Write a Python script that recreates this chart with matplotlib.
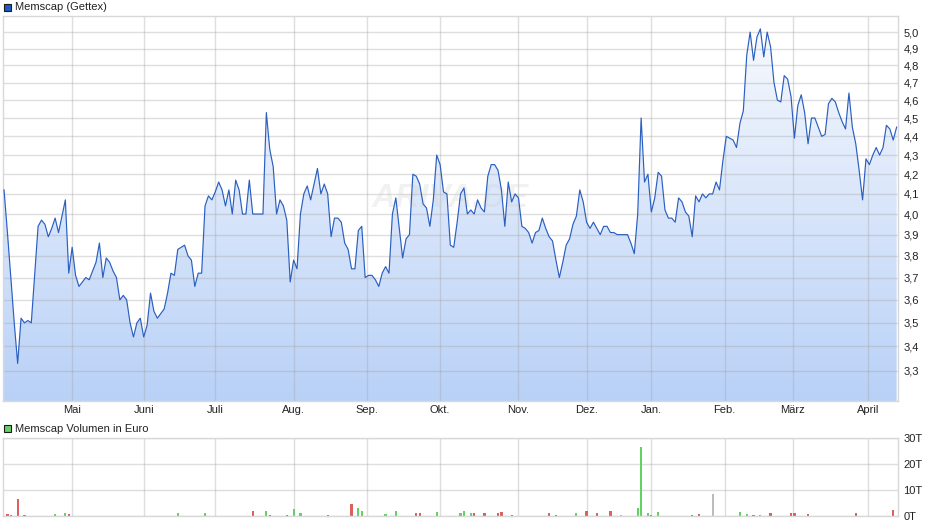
import numpy as np
import matplotlib
matplotlib.use("Agg")
import matplotlib.pyplot as plt
from matplotlib.colors import LinearSegmentedColormap
from matplotlib.patches import Rectangle
from matplotlib.ticker import NullLocator

plt.rcParams['font.family'] = ['Liberation Sans', 'DejaVu Sans']

# daily closing prices (EUR), one per trading day
prices = [
    4.12, 3.91, 3.70, 3.50, 3.33, 3.52, 3.50, 3.51, 3.50, 3.71,
    3.94, 3.97, 3.95, 3.89, 3.93, 3.98, 3.91, 3.99, 4.07, 3.72,
    3.84, 3.71, 3.66, 3.68, 3.70, 3.69, 3.73, 3.77, 3.86, 3.70,
    3.79, 3.77, 3.73, 3.70, 3.60, 3.62, 3.60, 3.50, 3.44, 3.50,
    3.52, 3.44, 3.49, 3.63, 3.55, 3.52, 3.54, 3.56, 3.63, 3.72,
    3.71, 3.83, 3.84, 3.85, 3.80, 3.78, 3.66, 3.72, 3.72, 4.04,
    4.09, 4.07, 4.11, 4.16, 4.12, 4.04, 4.12, 4.00, 4.17, 4.12,
    4.00, 4.00, 4.17, 4.00, 4.00, 4.00, 4.00, 4.53, 4.33, 4.24,
    4.00, 4.07, 4.04, 3.97, 3.68, 3.78, 3.74, 4.00, 4.10, 4.14,
    4.07, 4.15, 4.23, 4.10, 4.15, 4.10, 3.89, 3.98, 3.98, 3.96,
    3.86, 3.83, 3.74, 3.74, 3.92, 3.94, 3.70, 3.71, 3.71, 3.69,
    3.66, 3.72, 3.75, 3.72, 4.00, 4.08, 3.93, 3.79, 3.88, 3.90,
    4.20, 4.19, 4.15, 4.05, 4.03, 3.94, 4.07, 4.30, 4.25, 4.11,
    4.10, 3.85, 3.84, 3.96, 4.10, 4.13, 4.00, 4.02, 4.00, 4.07,
    4.03, 4.01, 4.19, 4.25, 4.25, 4.22, 4.12, 3.94, 4.16, 4.06,
    4.10, 4.08, 3.94, 3.93, 3.91, 3.86, 3.91, 3.92, 3.98, 3.93,
    3.89, 3.87, 3.78, 3.70, 3.77, 3.85, 3.88, 3.95, 3.99, 4.12,
    4.06, 3.96, 3.93, 3.96, 3.93, 3.90, 3.94, 3.94, 3.91, 3.91,
    3.90, 3.90, 3.90, 3.90, 3.86, 3.81, 4.00, 4.50, 4.16, 4.20,
    4.01, 4.08, 4.21, 4.19, 4.02, 3.98, 3.98, 3.96, 4.08, 4.06,
    4.01, 3.99, 3.89, 4.09, 4.06, 4.10, 4.08, 4.10, 4.10, 4.16,
    4.12, 4.27, 4.40, 4.39, 4.38, 4.34, 4.47, 4.54, 4.86, 5.00,
    4.83, 4.97, 5.02, 4.85, 5.00, 4.91, 4.70, 4.60, 4.59, 4.74,
    4.72, 4.62, 4.39, 4.57, 4.63, 4.53, 4.36, 4.50, 4.50, 4.45,
    4.40, 4.41, 4.58, 4.61, 4.59, 4.53, 4.48, 4.44, 4.64, 4.45,
    4.36, 4.22, 4.07, 4.28, 4.25, 4.30, 4.34, 4.30, 4.34, 4.46,
    4.44, 4.38, 4.45,
]

# month boundaries (position in trading-day index) and labels
month_labels = ['Mai', 'Juni', 'Juli', 'Aug.', 'Sep.', 'Okt.', 'Nov.', 'Dez.',
                'Jan.', 'Feb.', 'März', 'April']
month_pos = [20, 41, 62, 85, 106.5, 128, 151, 171, 190, 211.5, 231.5, 253.5]

price_ticks = [3.3, 3.4, 3.5, 3.6, 3.7, 3.8, 3.9, 4.0, 4.1, 4.2,
               4.3, 4.4, 4.5, 4.6, 4.7, 4.8, 4.9, 5.0]

# traded volume (thousand EUR) on days with turnover
vol_day = [1, 2, 4, 6, 9, 15, 18, 19, 29, 51, 56, 57, 59, 73, 77, 78, 83, 84,
           85, 86, 87, 91, 95, 96, 100, 102, 104, 105, 107, 112, 113, 115,
           121, 122, 127, 134, 135, 137, 138, 141, 145, 146, 149, 154, 155,
           160, 162, 168, 171, 174, 178, 181, 186, 187, 189, 190, 191, 192,
           202, 204, 208, 216, 218, 220, 222, 225, 231, 232, 234, 236, 238,
           250, 261]
vol_amount = [0.9, 0.5, 6.6, 0.5, 0.1, 0.9, 1.3, 0.9, 0.1, 1.3, 0.1, 0.1, 1.3,
              2.0, 2.0, 0.5, 0.5, 0.1, 2.8, 0.1, 1.3, 0.1, 0.5, 0.1, 0.1, 4.7,
              3.2, 2.0, 0.1, 0.9, 0.1, 2.0, 1.3, 1.3, 1.7, 1.3, 2.0, 1.3, 1.3,
              1.3, 1.3, 1.7, 0.5, 0.1, 0.1, 1.3, 0.5, 1.3, 2.0, 1.3, 2.0, 0.5,
              3.2, 26.5, 1.3, 0.5, 0.1, 1.7, 0.5, 0.9, 8.5, 1.7, 0.9, 0.5, 0.5,
              1.3, 1.3, 1.3, 0.1, 0.9, 0.1, 1.3, 2.5]
vol_dir = ['d', 'd', 'd', 'd', 'u', 'u', 'u', 'd', 'd', 'u', 'd', 'u', 'u',
           'd', 'u', 'd', 'd', 'd', 'u', 'd', 'u', 'u', 'd', 'd', 'd', 'd',
           'u', 'u', 'u', 'u', 'd', 'u', 'd', 'd', 'u', 'u', 'u', 'u', 'd',
           'd', 'd', 'd', 'd', 'd', 'd', 'd', 'd', 'u', 'd', 'd', 'd', 'n',
           'u', 'u', 'u', 'd', 'u', 'u', 'd', 'd', 'n', 'u', 'u', 'd', 'u',
           'd', 'd', 'd', 'u', 'd', 'n', 'd', 'd']
vol_ticks = [0, 10, 20, 30]
vol_tick_labels = ['0T', '10T', '20T', '30T']

DIR_COLORS = {'u': '#63d263', 'd': '#d9625f', 'n': '#bcbcbc'}
GRID = dict(color='#a4a4a4', alpha=0.36, linewidth=1.0)
TEXT = '#222222'
FS = 8.0
W, H = 940, 526

fig = plt.figure(figsize=(W / 100, H / 100), dpi=100)

# ---- price panel ----
ax = fig.add_axes([3 / W, 1 - 401 / H, 895 / W, 385 / H])
x = np.arange(len(prices))

grad = np.linspace(0, 1, 256).reshape(-1, 1)
cmap = LinearSegmentedColormap.from_list('fill', ['#f8fafe', '#b9d1f7'])
im = ax.imshow(grad, extent=[0, 1, 0, 1], transform=ax.transAxes,
               aspect='auto', cmap=cmap, origin='upper', zorder=0.5)

ax.set_yscale('log')
ax.set_xlim(-0.3, 262.4)
ax.set_ylim(3.18, 5.10)

poly = ax.fill_between(x, prices, 3.0, facecolor='none', linewidth=0)
im.set_clip_path(poly.get_paths()[0], ax.transData)

ax.plot(x, prices, color='#2a5fc0', linewidth=0.85, zorder=3)

ax.set_yticks(price_ticks)
ax.set_yticklabels([f'{v:.1f}'.replace('.', ',') for v in price_ticks])
ax.yaxis.set_minor_locator(NullLocator())
ax.yaxis.tick_right()
ax.set_xticks(month_pos)
ax.set_xticklabels(month_labels)
ax.tick_params(axis='y', length=0, pad=4, labelsize=FS, labelcolor=TEXT)
ax.tick_params(axis='x', length=0, pad=3, labelsize=FS, labelcolor=TEXT)
ax.grid(True, **GRID)
for s in ax.spines.values():
    s.set_color('#d8d8d8')
    s.set_linewidth(1.0)

ax.text(0.5, 0.525, 'ARIVA.DE', transform=ax.transAxes, ha='center',
        va='center', fontsize=24, fontweight='bold', style='italic',
        color='#d0d0d0', alpha=0.28, zorder=1.8)

# ---- volume panel ----
vax = fig.add_axes([3 / W, 1 - 516.3 / H, 895 / W, 78.6 / H])
vax.bar(vol_day, vol_amount, width=0.65,
        color=[DIR_COLORS[d] for d in vol_dir], linewidth=0, zorder=2)
vax.set_xlim(-0.3, 262.4)
vax.set_ylim(0, 30)
vax.set_yticks(vol_ticks)
vax.set_yticklabels(vol_tick_labels)
vax.yaxis.tick_right()
vax.set_xticks(month_pos)
vax.set_xticklabels([])
vax.tick_params(axis='y', length=0, pad=4, labelsize=FS, labelcolor=TEXT)
vax.tick_params(axis='x', length=0)
vax.grid(True, **GRID)
for s in vax.spines.values():
    s.set_color('#d8d8d8')
    s.set_linewidth(1.0)

# ---- legends ----
fig.add_artist(Rectangle((4 / W, 1 - 11 / H), 7 / W, 7 / H,
                         transform=fig.transFigure, facecolor='#1f5bc4',
                         edgecolor='#1a1a1a', linewidth=0.8))
fig.text(15 / W, 1 - 7.5 / H, 'Memscap (Gettex)', fontsize=FS, color=TEXT,
         va='center', ha='left')
fig.add_artist(Rectangle((4 / W, 1 - 432 / H), 7 / W, 7 / H,
                         transform=fig.transFigure, facecolor='#66d066',
                         edgecolor='#1a1a1a', linewidth=0.8))
fig.text(15 / W, 1 - 428.5 / H, 'Memscap Volumen in Euro', fontsize=FS,
         color=TEXT, va='center', ha='left')

fig.savefig('out.png', dpi=100)
